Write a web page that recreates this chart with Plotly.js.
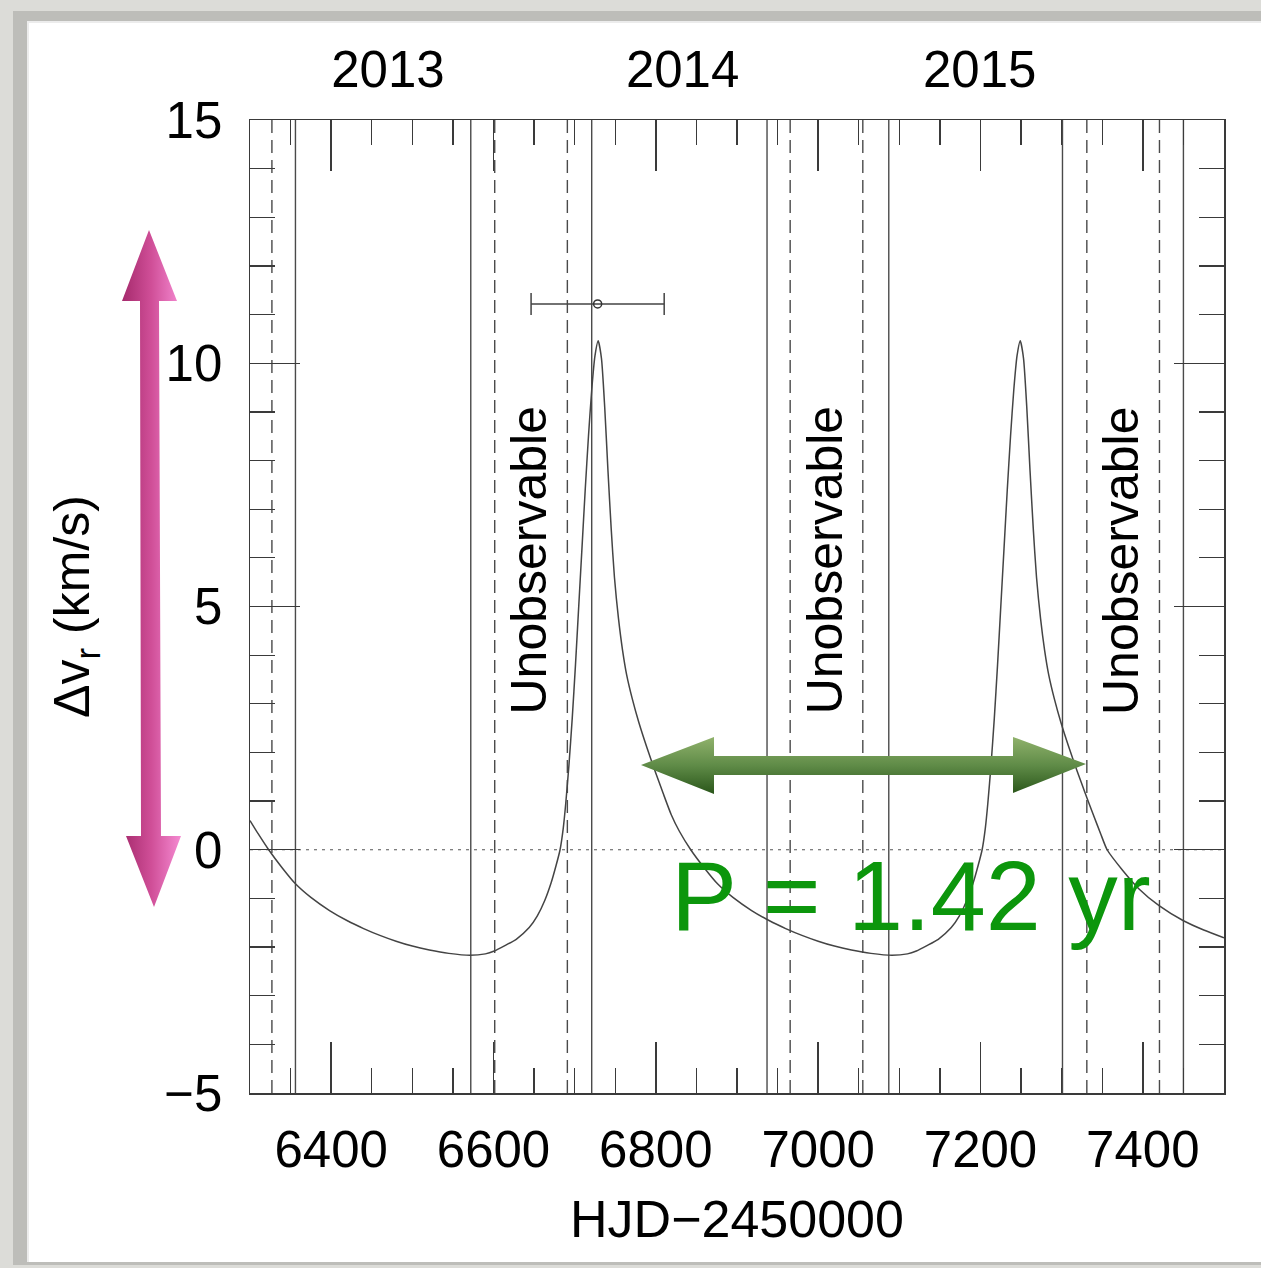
<!DOCTYPE html>
<html>
<head>
<meta charset="utf-8">
<script src="https://cdn.plot.ly/plotly-3.0.1.min.js"></script>
<style>
  html, body { margin: 0; padding: 0; width: 1261px; height: 1268px; overflow: hidden; background: #dcdcd8; }
  #frame { position: absolute; left: 13px; top: 11px; width: 1300px; height: 1254px; background: #bdbdb9; }
  #panel { position: absolute; left: 27px; top: 21px; width: 1300px; height: 1241px; background: #ffffff; border-top: 2px solid #ececec; border-left: 2px solid #ececec; box-sizing: border-box; }
  #chart { position: absolute; left: 0; top: 0; width: 1261px; height: 1268px; }
</style>
</head>
<body>
<div id="frame"></div>
<div id="panel"></div>
<div id="chart"></div>
<script>
// ---- data ----
const hjd = [6300, 6310, 6323, 6340, 6356, 6375, 6398, 6420, 6440, 6460, 6480, 6500, 6521, 6545, 6571,
  6590, 6601, 6614, 6628, 6644, 6654, 6663, 6671, 6677, 6682, 6686, 6689, 6693, 6697, 6701, 6705, 6709, 6713, 6717, 6721, 6725,
  6729, 6733, 6737, 6741, 6745, 6749, 6754, 6759, 6764, 6771, 6779, 6789, 6799, 6809, 6819, 6829, 6843, 6860, 6876, 6895,
  6918, 6940, 6960, 6980, 7000, 7020, 7041, 7065, 7091,
  7110, 7121, 7134, 7148, 7164, 7174, 7183, 7191, 7197, 7202, 7206, 7209, 7213, 7217, 7221, 7225, 7229, 7233, 7237, 7241, 7245,
  7249, 7253, 7257, 7261, 7265, 7269, 7274, 7279, 7284, 7291, 7299, 7309, 7319, 7329, 7339, 7348, 7356, 7375, 7395, 7420, 7450, 7475, 7500];
const dv = [0.60, 0.33, 0.0, -0.38, -0.70, -0.98, -1.25, -1.46, -1.62, -1.76, -1.88, -1.98, -2.06, -2.13, -2.17,
  -2.14, -2.08, -1.97, -1.84, -1.60, -1.36, -1.05, -0.68, -0.33, 0.0, 0.45, 0.95, 1.75, 2.7, 3.8, 5.0, 6.2, 7.4, 8.5, 9.45, 10.15,
  10.46, 10.1, 9.1, 7.8, 6.6, 5.6, 4.75, 4.1, 3.6, 3.1, 2.62, 2.1, 1.62, 1.16, 0.72, 0.38, 0.0, -0.38, -0.70, -0.98,
  -1.25, -1.46, -1.62, -1.76, -1.88, -1.98, -2.06, -2.13, -2.17,
  -2.14, -2.08, -1.97, -1.84, -1.60, -1.36, -1.05, -0.68, -0.33, 0.0, 0.45, 0.95, 1.75, 2.7, 3.8, 5.0, 6.2, 7.4, 8.5, 9.45, 10.15,
  10.46, 10.1, 9.1, 7.8, 6.6, 5.6, 4.75, 4.1, 3.6, 3.1, 2.62, 2.1, 1.62, 1.16, 0.72, 0.33, 0.0, -0.42, -0.80, -1.15, -1.46, -1.65, -1.81];

const obsX = [6728.3];
const obsY = [11.22];
const obsErrX = [82];

const solidLines  = [6356, 6572, 6721, 6937, 7087, 7301, 7450];
const dashedLines = [6327, 6601.5, 6691, 6965.5, 7055, 7331, 7420.5];

const unobsX = [6644, 7008.5, 7374];
const unobsText = ['Unobservable', 'Unobservable', 'Unobservable'];

const yearPos = [6470, 6833, 7199];
const yearLabels = ['2013', '2014', '2015'];

const periodLabel = 'P = 1.42 yr';

// ---- decorative arrows (page pixel coordinates) ----
const pinkArrowX = [149, 177, 159, 161, 181, 154, 126, 141, 140, 122, 149];
const pinkArrowY = [230, 301, 301, 836, 836, 907, 836, 836, 301, 301, 230];
const greenArrowX = [641, 714, 714, 1013, 1013, 1086, 1013, 1013, 714, 714, 641];
const greenArrowY = [765, 737, 756, 756, 737, 764, 793, 775, 775, 794, 765];

// ---- layout geometry ----
const W = 1261, H = 1268;
const L = 250, R = 1224, T = 120, B = 1093;
const font = 'Liberation Sans, Arial, Helvetica, sans-serif';
const fs = 51;
const lineCol = '#3a3a3a';

const traces = [];

function vlines(xs, dash) {
  const x = [], y = [];
  xs.forEach(v => { x.push(v, v, null); y.push(-5, 15, null); });
  return { x, y, mode: 'lines', type: 'scatter', hoverinfo: 'skip', showlegend: false,
    line: { color: '#4a4a4a', width: 1.4, dash: dash } };
}
traces.push(vlines(solidLines, 'solid'));
traces.push(vlines(dashedLines, '13px,7px'));

traces.push({ x: [6300, 7500], y: [0, 0], mode: 'lines', type: 'scatter', hoverinfo: 'skip', showlegend: false,
  line: { color: '#555', width: 1.2, dash: '3px,5px' } });

traces.push({ x: hjd, y: dv, mode: 'lines', type: 'scatter', showlegend: false,
  line: { color: '#444', width: 1.5, shape: 'spline', smoothing: 0.6 } });

traces.push({ x: obsX, y: obsY, mode: 'markers', type: 'scatter', showlegend: false,
  marker: { symbol: 'circle-open', size: 8, color: '#333', line: { width: 1.5 } },
  error_x: { type: 'data', array: obsErrX, visible: true, color: '#444', thickness: 1.5, width: 11 } });

traces.push({ x: yearPos, y: [0, 0, 0], xaxis: 'x2', yaxis: 'y', mode: 'markers', opacity: 0,
  hoverinfo: 'skip', showlegend: false, type: 'scatter' });

traces.push({ x: pinkArrowX, y: pinkArrowY, xaxis: 'x3', yaxis: 'y3', type: 'scatter', mode: 'lines',
  fill: 'toself', line: { width: 0, color: 'rgba(0,0,0,0)' }, hoverinfo: 'skip', showlegend: false,
  fillcolor: '#d0529c',
  fillgradient: { type: 'horizontal', start: 122, stop: 181,
    colorscale: [[0, '#a52a6c'], [0.5, '#d04f98'], [1, '#f58ad2']] } });
traces.push({ x: greenArrowX, y: greenArrowY, xaxis: 'x3', yaxis: 'y3', type: 'scatter', mode: 'lines',
  fill: 'toself', line: { width: 0, color: 'rgba(0,0,0,0)' }, hoverinfo: 'skip', showlegend: false,
  fillcolor: '#5d8a44',
  fillgradient: { type: 'vertical', start: 737, stop: 794,
    colorscale: [[0, '#90b26c'], [0.5, '#5f8b47'], [1, '#2a561a']] } });

const annotations = [];
unobsX.forEach((x, i) => annotations.push({
  x: x, y: 5.95, xref: 'x', yref: 'y', text: unobsText[i], showarrow: false, textangle: -90,
  font: { family: font, size: 50, color: '#000' }, xanchor: 'center', yanchor: 'middle'
}));
annotations.push({
  x: 911, y: 895, xref: 'x3', yref: 'y3', text: periodLabel, showarrow: false,
  font: { family: font, size: 99, color: '#0c960c' }, xanchor: 'center', yanchor: 'middle'
});

const axCommon = {
  showline: true, linecolor: lineCol, linewidth: 1.5, mirror: 'ticks', showgrid: false, zeroline: false,
  ticks: 'inside', tickcolor: lineCol, tickwidth: 1.4,
  tickfont: { family: font, size: fs, color: '#000' }
};

const layout = {
  width: W, height: H,
  margin: { l: 0, r: 0, t: 0, b: 0, pad: 0 },
  paper_bgcolor: 'rgba(0,0,0,0)', plot_bgcolor: 'rgba(0,0,0,0)',
  showlegend: false,
  font: { family: font, size: fs, color: '#000' },
  xaxis: Object.assign({}, axCommon, {
    domain: [L / W, R / W], range: [6300, 7500], anchor: 'y',
    tick0: 6400, dtick: 200, ticklen: 51, ticklabelstandoff: 11,
    minor: { tick0: 6300, dtick: 50, ticklen: 25, ticks: 'inside', tickcolor: lineCol, tickwidth: 1.3 },
    title: { text: 'HJD\u22122450000', font: { family: font, size: 52, color: '#000' }, standoff: 24 }
  }),
  yaxis: Object.assign({}, axCommon, {
    domain: [(H - B) / H, (H - T) / H], range: [-5, 15], anchor: 'x',
    tick0: 0, dtick: 5, ticklen: 50, ticklabelstandoff: 16,
    minor: { tick0: 0, dtick: 1, ticklen: 25, ticks: 'inside', tickcolor: lineCol, tickwidth: 1.3 },
    title: { text: '\u0394v<sub>r</sub> (km/s)', font: { family: font, size: 50, color: '#000' }, standoff: 58 }
  }),
  xaxis2: {
    overlaying: 'x', side: 'top', anchor: 'y', range: [6300, 7500], showline: false, showgrid: false,
    zeroline: false, ticks: '', tickmode: 'array', tickvals: yearPos, ticktext: yearLabels,
    tickfont: { family: font, size: fs, color: '#000' }, ticklabelstandoff: 22
  },
  xaxis3: { domain: [0, 1], range: [0, W], visible: false, anchor: 'y3', fixedrange: true },
  yaxis3: { domain: [0, 1], range: [H, 0], visible: false, anchor: 'x3', fixedrange: true },
  annotations: annotations
};

Plotly.newPlot('chart', traces, layout, { staticPlot: true, displayModeBar: false });
</script>
</body>
</html>
